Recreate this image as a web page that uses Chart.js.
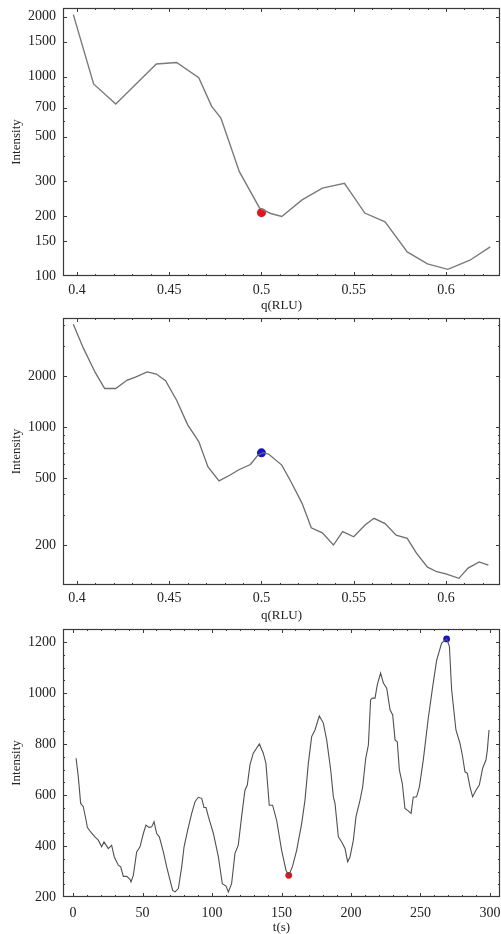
<!DOCTYPE html>
<html>
<head>
<meta charset="utf-8">
<title>Intensity scans</title>
<script src="https://cdn.jsdelivr.net/npm/chart.js@4.4.1/dist/chart.umd.min.js"></script>
<style>
  html, body { margin: 0; padding: 0; background: #fff; }
  body { width: 501px; height: 934px; position: relative; overflow: hidden; }
  canvas { position: absolute; left: 0; }
</style>
</head>
<body>
<canvas id="scanA" width="501" height="312" style="top:0px"></canvas>
<canvas id="scanB" width="501" height="310" style="top:312px"></canvas>
<canvas id="timeC" width="501" height="312" style="top:622px"></canvas>

<script>
/* =========================
   DATA
========================= */

// top panel: q scan (log intensity)
const qA = [0.398, 0.409, 0.421, 0.432, 0.443, 0.454, 0.466, 0.473, 0.478, 0.488, 0.499, 0.505,
            0.511, 0.522, 0.533, 0.545, 0.556, 0.567, 0.579, 0.590, 0.601, 0.613, 0.624];
const intA = [2050, 920, 730, 920, 1160, 1180, 990, 710, 620, 334, 219, 206,
              199, 241, 276, 292, 207, 187, 132, 115, 108, 120, 140];
const markA = [{ x: 0.5, y: 208 }];

// middle panel: q scan (log intensity)
const qB = [0.398, 0.4035, 0.410, 0.415, 0.421, 0.427, 0.432, 0.438, 0.443, 0.448, 0.454, 0.460,
            0.466, 0.471, 0.477, 0.483, 0.488, 0.494, 0.498, 0.501, 0.504, 0.511, 0.516, 0.522,
            0.527, 0.533, 0.539, 0.544, 0.550, 0.556, 0.561, 0.567, 0.573, 0.579, 0.584, 0.590,
            0.595, 0.600, 0.607, 0.612, 0.618, 0.623];
const intB = [4060, 2920, 2090, 1690, 1690, 1890, 1980, 2120, 2060, 1880, 1440, 1030,
              820, 580, 480, 520, 560, 600, 680, 705, 690, 595, 474, 353,
              253, 236, 200, 240, 224, 262, 288, 268, 229, 219, 179, 148,
              139, 135, 127, 146, 159, 152];
const markB = [{ x: 0.5, y: 703 }];

// bottom panel: time trace
const tC = [2.2, 3.8, 5.5, 7.4, 9.4, 10.3, 12.7, 15.8, 18.2, 20.6, 22.3, 25.4, 27.8, 29.7, 32.6,
            34.3, 36.2, 38.6, 41.0, 41.7, 43.4, 45.8, 48.2, 50.6, 52.5, 54.7, 56.6, 58.3, 60.2,
            62.1, 65.0, 67.4, 69.8, 71.7, 73.4, 75.8, 78.2, 79.9, 82.5, 85.4, 87.8, 90.1, 92.6,
            94.2, 95.7, 97.4, 101.0, 104.6, 107.4, 110.1, 111.8, 114.1, 116.5, 118.9, 121.3,
            123.7, 125.4, 127.3, 129.7, 134.1, 136.9, 138.8, 141.2, 143.6, 146.5, 150.1, 153.2,
            155.2, 157.8, 160.9, 164.5, 166.9, 169.3, 171.7, 174.1, 177.2, 180.1, 182.5, 185.4,
            187.3, 188.5, 190.9, 193.3, 195.7, 197.6, 199.3, 201.7, 203.6, 206.5, 208.4, 210.6,
            212.5, 214.1, 215.3, 217.3, 218.9, 221.3, 223.3, 225.7, 228.1, 230.0, 231.7, 233.3,
            234.8, 236.9, 238.8, 241.2, 243.2, 244.8, 247.2, 249.2, 252.0, 255.6, 258.8, 261.6,
            265.2, 268.8, 270.8, 272.4, 275.5, 278.4, 280.3, 282.0, 283.7, 285.6, 287.5, 289.9,
            292.3, 294.7, 297.1, 298.1, 299.3];
const intC = [744, 672, 567, 554, 501, 473, 455, 436, 423, 397, 416, 390, 403, 357, 325,
              318, 281, 281, 269, 259, 285, 377, 397, 449, 482, 473, 475, 495, 449,
              436, 377, 318, 266, 226, 220, 233, 318, 397, 462, 528, 574, 591, 587,
              551, 551, 515, 449, 357, 252, 243, 220, 252, 370, 403, 515,
              619, 639, 718, 764, 800, 764, 724, 560, 560, 501, 383, 305,
              285, 318, 383, 488, 580, 724, 829, 855, 910, 882, 816, 698,
              593, 567, 436, 416, 390, 338, 357, 423, 515, 580, 632, 744,
              796, 973, 980, 980, 1032, 1078, 1039, 1019, 934, 914, 816, 809,
              698, 646, 547, 538, 528, 591, 593, 632, 737, 901, 1026, 1128,
              1196, 1212, 1183, 1013, 855, 803, 750, 691, 685, 632, 593, 619,
              639, 705, 737, 777, 855];
const markC = [{ x: 155.2, y: 285, c: "#e3141b" }, { x: 268.8, y: 1212, c: "#1414c8" }];

// tick labels
const qTicks = [0.4, 0.45, 0.5, 0.55, 0.6];
const yTicksA = [100, 150, 200, 300, 500, 700, 1000, 1500, 2000];
const yTicksB = [200, 500, 1000, 2000];
const tTicks = [0, 50, 100, 150, 200, 250, 300];
const yTicksC = [200, 400, 600, 800, 1000, 1200];

/* =========================
   HELPERS
========================= */

const SERIF = "'Liberation Serif', 'DejaVu Serif', serif";
const INK = "#222";

function pairs(xs, ys) {
  return xs.map((x, i) => ({ x: x, y: ys[i] }));
}

function stepList(from, to, step) {
  const out = [];
  for (let v = from; v <= to + step / 1000; v += step) out.push(+v.toFixed(4));
  return out;
}

function logMinor(lo, hi) {
  const out = [];
  for (let d = 1; d <= 10000; d *= 10) {
    for (let k = 1; k < 10; k++) {
      const v = k * d;
      if (v >= lo && v <= hi) out.push(v);
    }
  }
  return out;
}

// box frame + inward ticks on all four sides
const frameTicks = {
  id: "frameTicks",
  afterDraw(chart, args, opts) {
    const { ctx, chartArea: a, scales } = chart;
    ctx.save();
    ctx.strokeStyle = "#3a3a3a";
    ctx.lineWidth = 1;
    ctx.beginPath();
    const mark = (scale, vals, len) => {
      vals.forEach(v => {
        const p = Math.round(scale.getPixelForValue(v)) + 0.5;
        if (scale.isHorizontal()) {
          if (p < a.left + 1 || p > a.right - 1) return;
          ctx.moveTo(p, a.bottom); ctx.lineTo(p, a.bottom - len);
          ctx.moveTo(p, a.top); ctx.lineTo(p, a.top + len);
        } else {
          if (p < a.top + 1 || p > a.bottom - 1) return;
          ctx.moveTo(a.left, p); ctx.lineTo(a.left + len, p);
          ctx.moveTo(a.right, p); ctx.lineTo(a.right - len, p);
        }
      });
    };
    mark(scales.x, opts.xMajor, 4);
    mark(scales.x, opts.xMinor, 2);
    mark(scales.y, opts.yMajor, 4);
    mark(scales.y, opts.yMinor, 2);
    ctx.stroke();
    ctx.lineWidth = 1.2;
    ctx.strokeRect(a.left + 0.5, a.top + 0.5, a.right - a.left - 1, a.bottom - a.top - 1);
    ctx.restore();
  }
};

function panel(id, cfg) {
  const xTickVals = cfg.xTicks;
  const yTickVals = cfg.yTicks;
  new Chart(document.getElementById(id), {
    type: "scatter",
    data: {
      datasets: [
        {
          data: cfg.line,
          showLine: true,
          borderColor: cfg.lineColor,
          borderWidth: cfg.lineWidth,
          pointRadius: 0,
          tension: 0
        },
        {
          data: cfg.marks,
          pointRadius: cfg.markRadius,
          pointBackgroundColor: cfg.marks.map(m => m.c || cfg.markColor),
          pointBorderWidth: 0,
          showLine: false
        }
      ]
    },
    options: {
      responsive: false,
      animation: false,
      devicePixelRatio: 1,
      layout: {
        autoPadding: false,
        padding: { top: cfg.padTop, right: 1, left: 0, bottom: 0 }
      },
      plugins: {
        legend: { display: false },
        tooltip: { enabled: false },
        frameTicks: {
          xMajor: xTickVals, xMinor: cfg.xMinor,
          yMajor: yTickVals, yMinor: cfg.yMinor
        }
      },
      scales: {
        x: {
          type: "linear",
          min: cfg.xMin, max: cfg.xMax,
          grid: { display: false, drawTicks: false },
          border: { display: false },
          afterBuildTicks: s => { s.ticks = xTickVals.map(v => ({ value: v })); },
          afterFit: s => { s.height = cfg.xAxisH; s.paddingLeft = 0; s.paddingRight = 0; },
          ticks: {
            padding: cfg.xLabelPad,
            color: INK,
            font: { family: SERIF, size: 14 },
            maxRotation: 0,
            autoSkip: false,
            callback: v => String(v)
          },
          title: {
            display: true,
            text: cfg.xTitle,
            color: INK,
            padding: 0,
            font: { family: SERIF, size: 13, lineHeight: 1 }
          }
        },
        y: {
          type: cfg.yType,
          min: cfg.yMin, max: cfg.yMax,
          grid: { display: false, drawTicks: false },
          border: { display: false },
          afterBuildTicks: s => { s.ticks = yTickVals.map(v => ({ value: v })); },
          afterFit: s => { s.width = 63; s.paddingTop = 0; s.paddingBottom = 0; },
          ticks: {
            padding: 7,
            color: INK,
            font: { family: SERIF, size: 14 },
            autoSkip: false,
            callback: v => String(v)
          },
          title: {
            display: true,
            text: "Intensity",
            color: INK,
            padding: { top: 10, bottom: 0 },
            font: { family: SERIF, size: 13, lineHeight: 1 }
          }
        }
      }
    },
    plugins: [frameTicks]
  });
}

/* =========================
   CHARTS
========================= */

panel("scanA", {
  line: pairs(qA, intA), marks: markA, markColor: "#e3141b", markRadius: 4.5,
  lineColor: "#7a7a7a", lineWidth: 1.4,
  xMin: 0.3924, xMax: 0.6293, xTicks: qTicks, xMinor: stepList(0.39, 0.63, 0.01),
  yType: "logarithmic", yMin: 100, yMax: 2214, yTicks: yTicksA, yMinor: logMinor(100, 2214),
  xTitle: "q(RLU)", padTop: 8, xAxisH: 36, xLabelPad: 6
});

panel("scanB", {
  line: pairs(qB, intB), marks: markB, markColor: "#1414c8", markRadius: 4.5,
  lineColor: "#6e6e6e", lineWidth: 1.3,
  xMin: 0.3924, xMax: 0.6293, xTicks: qTicks, xMinor: stepList(0.39, 0.63, 0.01),
  yType: "logarithmic", yMin: 116, yMax: 4420, yTicks: yTicksB, yMinor: logMinor(116, 4420),
  xTitle: "q(RLU)", padTop: 6, xAxisH: 37, xLabelPad: 5
});

panel("timeC", {
  line: pairs(tC, intC), marks: markC, markColor: "#e3141b", markRadius: 3.4,
  lineColor: "#505050", lineWidth: 1.1,
  xMin: -7.2, xMax: 307.2, xTicks: tTicks, xMinor: stepList(0, 300, 10),
  yType: "linear", yMin: 200, yMax: 1251, yTicks: yTicksC, yMinor: stepList(200, 1250, 50),
  xTitle: "t(s)", padTop: 7, xAxisH: 37, xLabelPad: 8
});
</script>
</body>
</html>
